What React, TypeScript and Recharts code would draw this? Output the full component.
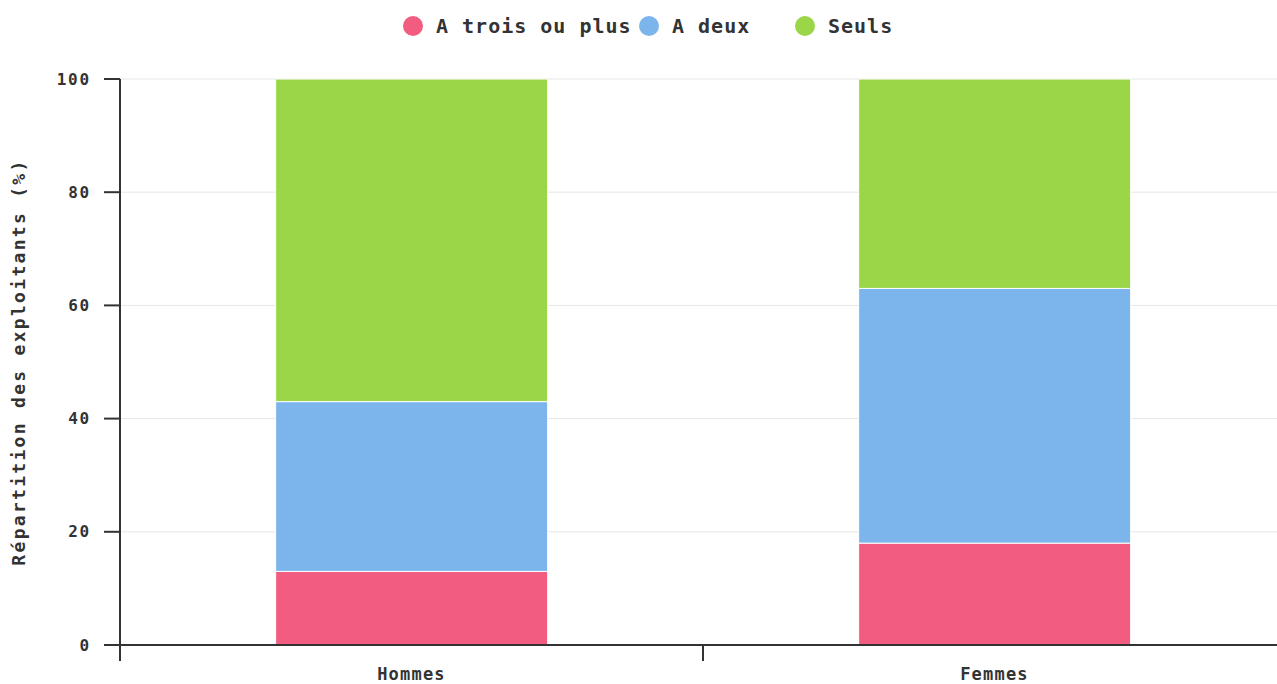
import React from 'react';
import { BarChart, Bar, XAxis, YAxis, CartesianGrid, Legend, Label } from 'recharts';

const categories = ['Hommes', 'Femmes'];
const troisOuPlus = [13, 18];
const aDeux = [30, 45];
const seuls = [57, 37];
const yTicks = [0, 20, 40, 60, 80, 100];

const seriesNames = ['A trois ou plus', 'A deux', 'Seuls'];
const seriesColors = ['#f15c80', '#7cb5ec', '#9ad648'];

const data = categories.map((c, i) => ({
  name: c,
  trois: troisOuPlus[i],
  deux: aDeux[i],
  seuls: seuls[i],
}));

const FONT = '"DejaVu Sans Mono", monospace';

const legendWidths = [236, 156, 110];

const LegendContent = () => (
  <div style={{ display: 'flex', paddingLeft: 403, fontFamily: FONT, fontWeight: 'bold', fontSize: 20, letterSpacing: 1, color: '#333', height: 24 }}>
    {seriesNames.map((n, i) => (
      <div key={n} style={{ width: legendWidths[i], display: 'flex', alignItems: 'center', whiteSpace: 'nowrap' }}>
        <span style={{ display: 'inline-block', width: 20, height: 20, borderRadius: 10, background: seriesColors[i], marginRight: 13, flexShrink: 0 }} />
        <span>{n}</span>
      </div>
    ))}
  </div>
);

const CategoryTick = (props: any) => {
  const { x, y, payload, index, visibleTicksCount } = props;
  const half = payload && typeof payload.offset === 'number' ? payload.offset : 0;
  const axisY = y - 23;
  const isLast = index === (visibleTicksCount ?? categories.length) - 1;
  return (
    <g>
      {half > 0 && (
        <line x1={x - half} x2={x - half} y1={axisY} y2={axisY + 16} stroke="#333" strokeWidth={2} />
      )}
      {half > 0 && isLast && (
        <line x1={x + half} x2={x + half} y1={axisY} y2={axisY + 16} stroke="#333" strokeWidth={2} />
      )}
      <text
        x={x}
        y={y}
        dy="0.71em"
        textAnchor="middle"
        fill="#333"
        style={{ fontFamily: FONT, fontWeight: 'bold', fontSize: 17, letterSpacing: 1.2 }}
      >
        {payload.value}
      </text>
    </g>
  );
};

export default function App() {
  return (
    <div style={{ position: 'absolute', left: 0, top: 0, width: 1277, height: 684, overflow: 'hidden', background: '#fff' }}>
      <BarChart
        width={1286}
        height={684}
        data={data}
        margin={{ top: 55, right: 0, bottom: 0, left: 0 }}
        barCategoryGap="26.7%"
      >
        <Legend
          verticalAlign="top"
          height={24}
          content={<LegendContent />}
          wrapperStyle={{ position: 'absolute', top: 14, left: 0, width: 1277, height: 24 }}
        />
        <CartesianGrid vertical={false} stroke="#e6e6e6" strokeWidth={1} />
        <XAxis
          dataKey="name"
          height={39}
          tickLine={false}
          axisLine={{ stroke: '#333', strokeWidth: 2 }}
          tickSize={14}
          tickMargin={9}
          tick={<CategoryTick />}
        />
        <YAxis
          type="number"
          domain={[0, 100]}
          ticks={yTicks}
          width={120}
          axisLine={{ stroke: '#333', strokeWidth: 2 }}
          tickLine={{ stroke: '#333', strokeWidth: 2 }}
          tickSize={16}
          tickMargin={13}
          tick={{ fill: '#333', fontFamily: FONT, fontWeight: 'bold', fontSize: 16, letterSpacing: 1.8 }}
        >
          <Label
            value="Répartition des exploitants (%)"
            angle={-90}
            position="insideLeft"
            offset={19}
            style={{ textAnchor: 'middle', fill: '#333', fontFamily: FONT, fontWeight: 'bold', fontSize: 18, letterSpacing: 2.3 }}
          />
        </YAxis>
        <Bar dataKey="trois" name={seriesNames[0]} stackId="a" fill={seriesColors[0]} stroke="#fff" strokeWidth={1} isAnimationActive={false} />
        <Bar dataKey="deux" name={seriesNames[1]} stackId="a" fill={seriesColors[1]} stroke="#fff" strokeWidth={1} isAnimationActive={false} />
        <Bar dataKey="seuls" name={seriesNames[2]} stackId="a" fill={seriesColors[2]} stroke="#fff" strokeWidth={1} isAnimationActive={false} />
      </BarChart>
    </div>
  );
}
